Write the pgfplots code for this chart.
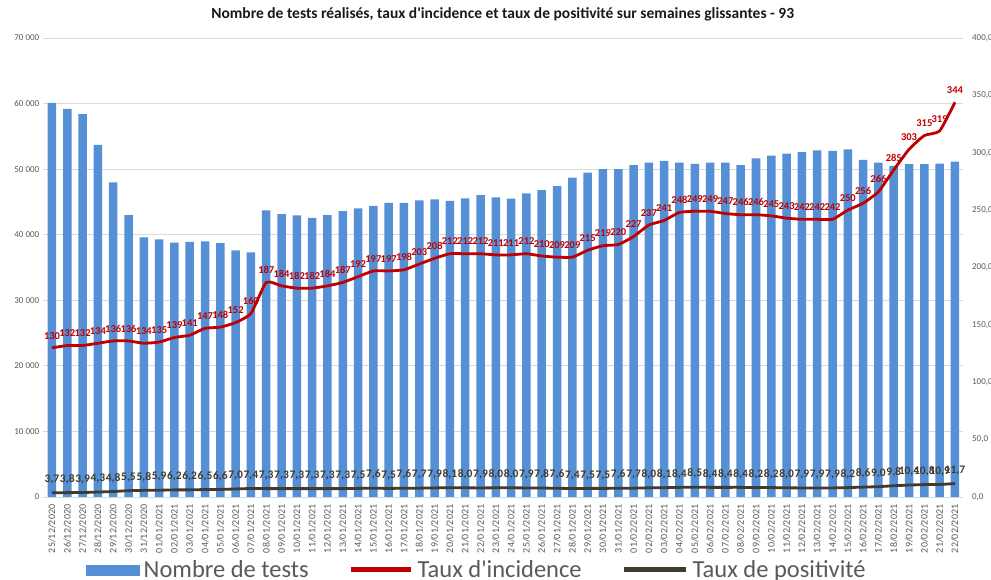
\documentclass[border=0pt]{standalone}
\usepackage{pgfplots}
\pgfplotsset{compat=1.18}
\usepackage{pgfplotstable}
\usepackage{fontspec}
\setmainfont{Carlito}
\definecolor{barblue}{HTML}{5590D6}
\definecolor{incred}{HTML}{C00000}
\definecolor{posdark}{HTML}{403B2A}
\definecolor{txtgray}{HTML}{595959}
\definecolor{gridgray}{HTML}{D9D9D9}
\pgfplotsset{/pgf/number format/assume math mode=true}

\pgfplotstableread{
idx tests inc pos
0 60100 130 3.7
1 59200 132 3.8
2 58400 132 3.9
3 53700 134 4.3
4 48000 136 4.8
5 43000 136 5.5
6 39600 134 5.8
7 39300 135 5.9
8 38800 139 6.2
9 38900 141 6.2
10 39000 147 6.5
11 38700 148 6.6
12 37600 152 7.0
13 37300 160 7.4
14 43700 187 7.3
15 43150 184 7.3
16 42950 182 7.3
17 42550 182 7.3
18 43000 184 7.3
19 43600 187 7.3
20 44000 192 7.5
21 44400 197 7.6
22 44850 197 7.5
23 44850 198 7.6
24 45250 203 7.7
25 45400 208 7.9
26 45150 212 8.1
27 45550 212 8.0
28 46050 212 7.9
29 45700 211 8.0
30 45500 211 8.0
31 46300 212 7.9
32 46800 210 7.8
33 47400 209 7.6
34 48700 209 7.4
35 49450 215 7.5
36 50000 219 7.5
37 50000 220 7.6
38 50600 227 7.7
39 51000 237 8.0
40 51250 241 8.1
41 51000 248 8.4
42 50800 249 8.5
43 51000 249 8.4
44 51000 247 8.4
45 50600 246 8.4
46 51650 246 8.2
47 52050 245 8.2
48 52350 243 8.0
49 52600 242 7.9
50 52850 242 7.9
51 52800 242 7.9
52 53000 250 8.2
53 51400 256 8.6
54 51000 266 9.0
55 50500 285 9.8
56 50750 303 10.4
57 50750 315 10.8
58 50850 319 10.9
59 51150 344 11.7
}\data

\pgfplotsset{
  common/.style={
    at={(42.8pt,83pt)}, anchor=south west, scale only axis,
    width=919.8pt, height=459pt,
    xmin=-0.6, xmax=59.5,
  }
}

\begin{document}
\begin{tikzpicture}
\useasboundingbox (0pt,0pt) rectangle (991pt,580pt);
\begin{axis}[
  common,
  ymin=0, ymax=70000,
  ytick={0,10000,...,70000},
  scaled y ticks=false,
  ymajorgrids, grid style={gridgray, line width=0.8pt},
  axis x line*=bottom, axis y line*=left,
  y axis line style={draw=none},
  x axis line style={gridgray, line width=0.8pt, -},
  ytick style={draw=none},
  xtick={0,...,59},
  xtick style={draw=none},
  minor xtick={-0.5,0.5,...,59.5},
  minor x tick style={gridgray, line width=0.8pt},
  minor tick length=5pt,
  xtick align=outside,
  xticklabels={25/12/2020,26/12/2020,27/12/2020,28/12/2020,29/12/2020,30/12/2020,31/12/2020,
  01/01/2021,02/01/2021,03/01/2021,04/01/2021,05/01/2021,06/01/2021,07/01/2021,08/01/2021,09/01/2021,10/01/2021,
  11/01/2021,12/01/2021,13/01/2021,14/01/2021,15/01/2021,16/01/2021,17/01/2021,18/01/2021,19/01/2021,20/01/2021,
  21/01/2021,22/01/2021,23/01/2021,24/01/2021,25/01/2021,26/01/2021,27/01/2021,28/01/2021,29/01/2021,30/01/2021,31/01/2021,
  01/02/2021,02/02/2021,03/02/2021,04/02/2021,05/02/2021,06/02/2021,07/02/2021,08/02/2021,09/02/2021,10/02/2021,
  11/02/2021,12/02/2021,13/02/2021,14/02/2021,15/02/2021,16/02/2021,17/02/2021,18/02/2021,19/02/2021,20/02/2021,
  21/02/2021,22/02/2021},
  x tick label style={rotate=90, anchor=east, font=\fontsize{10}{10}\selectfont, text=txtgray},
  y tick label style={font=\fontsize{9}{9}\selectfont, text=txtgray, /pgf/number format/1000 sep={\ }},
  title={Nombre de tests réalisés, taux d\textquotesingle incidence et taux de positivité sur semaines glissantes - 93},
  title style={font=\bfseries\fontsize{15.5}{15.5}\selectfont, text=black!90, yshift=7pt},
]
\addplot[ybar, bar width=8.5pt, fill=barblue, draw=none] table[x=idx, y=tests]{\data};
\end{axis}

\begin{axis}[
  common,
  ymin=0, ymax=400,
  ytick={0,50,...,400},
  axis x line=none,
  axis y line*=right,
  y axis line style={draw=none},
  ytick style={draw=none},
  y tick label style={font=\fontsize{9}{9}\selectfont, text=txtgray, xshift=6pt,
    /pgf/number format/.cd, fixed, fixed zerofill, precision=1, use comma},
  legend columns=3,
  legend style={draw=none, fill=none, at={(axis description cs:0.472,-0.159)}, anchor=center,
    font=\fontsize{24.5}{24.5}\selectfont, text=txtgray,
    /tikz/every even column/.append style={column sep=38pt},
    /tikz/every odd column/.append style={column sep=2pt}},
]
\addlegendimage{legend image code/.code={\fill[barblue] (0pt,-5pt) rectangle (53pt,5pt);}}
\addlegendentry{Nombre de tests}
\addplot[incred, line width=2.8pt, smooth, tension=0.3,
  legend image code/.code={\draw[incred, line width=5pt] (0pt,0pt) -- (60pt,0pt);},
  nodes near coords,
  nodes near coords style={font=\bfseries\fontsize{10.5}{10.5}\selectfont, text=incred, anchor=south, yshift=4pt}]
  table[x=idx, y=inc]{\data};
\addlegendentry{Taux d\textquotesingle incidence}
\addplot[posdark, line width=2.8pt, smooth, tension=0.3,
  legend image code/.code={\draw[posdark, line width=5pt] (0pt,0pt) -- (62pt,0pt);},
  nodes near coords={\pgfmathprintnumber[fixed,fixed zerofill,precision=1,use comma]{\pgfplotspointmeta}},
  nodes near coords style={font=\bfseries\fontsize{11.5}{11.5}\selectfont, text=posdark, anchor=south, yshift=4pt}]
  table[x=idx, y=pos]{\data};
\addlegendentry{Taux de positivité}
\end{axis}
\end{tikzpicture}
\end{document}
